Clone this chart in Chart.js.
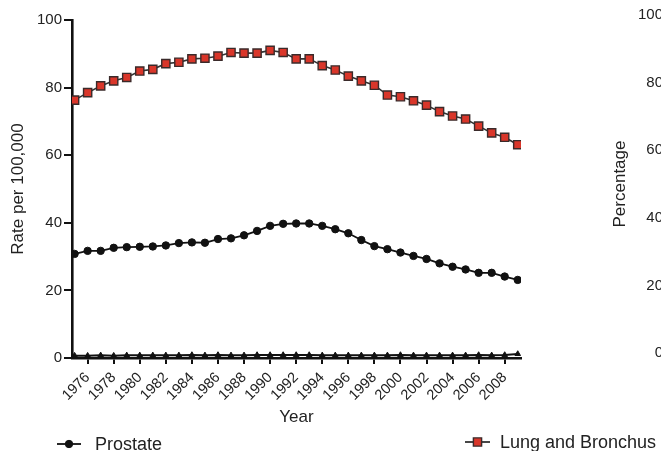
<!DOCTYPE html>
<html>
<head>
<meta charset="utf-8">
<script src="https://cdn.jsdelivr.net/npm/chart.js@4/dist/chart.umd.min.js"></script>
<style>
  html, body { margin: 0; padding: 0; background: #fff; overflow: hidden; width: 661px; height: 451px; }
  #main { position: absolute; left: 0; top: 0; }
  #side { position: absolute; left: 600px; top: 0; }
</style>
</head>
<body>
<canvas id="main" width="661" height="451"></canvas>
<canvas id="side" width="120" height="451"></canvas>
<script>
// ---- data ----
const years = [1975,1976,1977,1978,1979,1980,1981,1982,1983,1984,
               1985,1986,1987,1988,1989,1990,1991,1992,1993,1994,
               1995,1996,1997,1998,1999,2000,2001,2002,2003,2004,
               2005,2006,2007,2008,2009];
const lungBronchus = [76.3,78.5,80.5,82.0,83.0,84.9,85.4,87.1,87.5,88.5,
                      88.7,89.3,90.4,90.2,90.2,91.0,90.4,88.5,88.5,86.5,
                      85.2,83.4,82.0,80.7,77.8,77.3,76.1,74.8,72.9,71.6,
                      70.7,68.6,66.6,65.3,63.1];
const prostate = [30.8,31.7,31.7,32.6,32.8,32.9,33.0,33.3,34.0,34.2,
                  34.1,35.2,35.4,36.3,37.6,39.1,39.7,39.8,39.8,39.1,
                  38.1,36.9,34.9,33.1,32.2,31.2,30.2,29.3,28.0,27.0,
                  26.2,25.2,25.2,24.1,23.1];
const thirdSeries = [0.7,0.7,0.8,0.7,0.8,0.8,0.8,0.8,0.8,0.9,
                     0.8,0.9,0.8,0.8,0.9,0.9,0.9,0.9,0.9,0.8,
                     0.8,0.8,0.8,0.8,0.8,0.9,0.8,0.8,0.8,0.8,
                     0.8,0.9,0.8,0.9,1.2];
const xTickYears = [1976,1978,1980,1982,1984,1986,1988,1990,1992,1994,
                    1996,1998,2000,2002,2004,2006,2008];
const yTicks = [0,20,40,60,80,100];
const percentTicks = [0,20,40,60,80,100];

const FONT = "'Liberation Sans', Arial, Helvetica, sans-serif";
const TXT = '#222';

function pts(vals) { return years.map((y, i) => ({ x: y, y: vals[i] })); }

// custom legend placed like the reference
const legendPlugin = {
  id: 'placedLegend',
  afterDraw(chart, args, opts) {
    const ctx = chart.ctx;
    ctx.save();
    opts.items.forEach(it => {
      const ds = chart.data.datasets[it.dataset];
      ctx.strokeStyle = ds.borderColor;
      ctx.lineWidth = 1.8;
      ctx.beginPath();
      ctx.moveTo(it.x0, it.y);
      ctx.lineTo(it.x1, it.y);
      ctx.stroke();
      const cx = (it.x0 + it.x1) / 2;
      ctx.fillStyle = ds.pointBackgroundColor;
      ctx.strokeStyle = ds.pointBorderColor;
      ctx.lineWidth = ds.pointBorderWidth;
      ctx.beginPath();
      if (ds.pointStyle === 'rect') {
        const s = Math.SQRT1_2 * ds.pointRadius;
        ctx.rect(cx - s, it.y - s, 2 * s, 2 * s);
      } else {
        ctx.arc(cx, it.y, ds.pointRadius, 0, Math.PI * 2);
      }
      ctx.fill();
      ctx.stroke();
      ctx.fillStyle = TXT;
      ctx.font = '18px ' + FONT;
      ctx.textBaseline = 'middle';
      ctx.textAlign = 'left';
      ctx.fillText(ds.label, it.tx, it.y + 1);
    });
    ctx.restore();
  }
};

new Chart(document.getElementById('main'), {
  type: 'line',
  data: {
    datasets: [
      {
        label: 'Prostate',
        data: pts(prostate),
        borderColor: '#111',
        borderWidth: 1.8,
        pointStyle: 'circle',
        pointRadius: 3.7,
        pointBackgroundColor: '#111',
        pointBorderColor: '#111',
        pointBorderWidth: 1,
        tension: 0
      },
      {
        label: 'Lung and Bronchus',
        data: pts(lungBronchus),
        borderColor: '#333',
        borderWidth: 1.6,
        pointStyle: 'rect',
        pointRadius: 5.8,
        pointBackgroundColor: '#d9362a',
        pointBorderColor: '#3a2a2a',
        pointBorderWidth: 1.4,
        tension: 0
      },
      {
        label: 'Other',
        data: pts(thirdSeries),
        borderColor: '#111',
        borderWidth: 2,
        pointStyle: 'triangle',
        pointRadius: 3.2,
        pointBackgroundColor: '#111',
        pointBorderColor: '#111',
        pointBorderWidth: 1,
        tension: 0
      }
    ]
  },
  options: {
    responsive: false,
    animation: false,
    devicePixelRatio: 1,
    layout: { padding: { left: 0, top: 20, right: 140, bottom: 23 } },
    plugins: {
      legend: { display: false },
      tooltip: { enabled: false },
      placedLegend: {
        items: [
          { dataset: 0, x0: 57, x1: 81, y: 444, tx: 95 },
          { dataset: 1, x0: 465, x1: 490, y: 442, tx: 500 }
        ]
      }
    },
    scales: {
      x: {
        type: 'linear',
        min: 1974.8,
        max: 2009.25,
        afterFit(scale) { scale.height = 70; },
        afterBuildTicks(scale) { scale.ticks = xTickYears.map(v => ({ value: v })); },
        border: { display: true, color: '#111', width: 2.6 },
        grid: { display: true, drawOnChartArea: false, drawTicks: true, tickLength: 6, color: '#111', lineWidth: 2 },
        ticks: {
          autoSkip: false,
          minRotation: 45,
          maxRotation: 45,
          padding: 5,
          color: TXT,
          font: { family: FONT, size: 14.5 },
          callback: v => String(v)
        },
        title: { display: true, text: 'Year', color: TXT, font: { family: FONT, size: 17 }, padding: { top: 0, bottom: 0 } }
      },
      y: {
        type: 'linear',
        min: 0,
        max: 100,
        afterFit(scale) { scale.width = 72; },
        afterBuildTicks(scale) { scale.ticks = yTicks.map(v => ({ value: v })); },
        border: { display: true, color: '#111', width: 2.6 },
        grid: { display: true, drawOnChartArea: false, drawTicks: true, tickLength: 8, color: '#111', lineWidth: 2 },
        ticks: { padding: 2, color: TXT, font: { family: FONT, size: 15 } },
        title: { display: true, text: 'Rate per 100,000', color: TXT, font: { family: FONT, size: 17 }, padding: { top: 8, bottom: 0 } }
      }
    }
  },
  plugins: [legendPlugin]
});

// the neighbouring panel's y axis, cut off by the window edge
new Chart(document.getElementById('side'), {
  type: 'line',
  data: { datasets: [{ label: 'p', data: [], borderWidth: 0, pointRadius: 0 }] },
  options: {
    responsive: false,
    animation: false,
    devicePixelRatio: 1,
    layout: { padding: { left: 0, top: 15, right: 0, bottom: 98 } },
    plugins: { legend: { display: false }, tooltip: { enabled: false } },
    scales: {
      x: { type: 'linear', display: false, min: 0, max: 1 },
      y: {
        type: 'linear',
        min: 0,
        max: 100,
        afterFit(scale) { scale.width = 73; },
        afterBuildTicks(scale) { scale.ticks = percentTicks.map(v => ({ value: v })); },
        border: { display: true, color: '#111', width: 2.6 },
        grid: { display: true, drawOnChartArea: false, drawTicks: true, tickLength: 8, color: '#111', lineWidth: 2 },
        ticks: { padding: 2, color: TXT, font: { family: FONT, size: 15 } },
        title: { display: true, text: 'Percentage', color: TXT, font: { family: FONT, size: 17 }, padding: { top: 10, bottom: 0 } }
      }
    }
  }
});
</script>
</body>
</html>
